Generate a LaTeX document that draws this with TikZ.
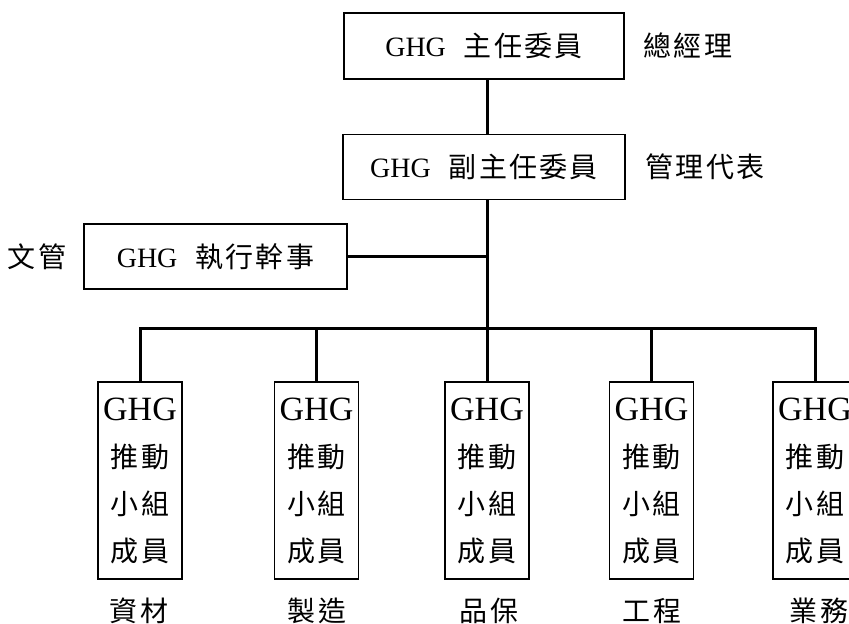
\documentclass[tikz,border=0pt]{standalone}
\usepackage{fontspec}
\setmainfont{Liberation Serif}
\newfontfamily\cjk[LetterSpace=8]{Noto Sans CJK TC}
\newcommand\bigghg{{\fontsize{17}{23.5}\selectfont GHG}}
\begin{document}
\begin{tikzpicture}[x=0.5pt,y=-0.5pt]
\tikzstyle{box} = [draw, line width=0.6pt, inner sep=0pt, font=\fontsize{14}{16}\selectfont]
\tikzstyle{member} = [box, minimum width=42pt, minimum height=98.5pt, align=center, font=\fontsize{14}{23.5}\selectfont]
\tikzstyle{note} = [font=\fontsize{14}{16}\selectfont\cjk]
\tikzstyle{link} = [line width=1.5pt]
\useasboundingbox (0,0) rectangle (849,624);
\node[box, minimum width=140pt, minimum height=33pt] (chief) at (484,46) {GHG\hspace{9pt}{\cjk 主任委員}};
\node[note] (gm) at (688,46) {總經理};
\node[box, minimum width=141pt, minimum height=32.5pt] (vice) at (484,167) {GHG\hspace{9pt}{\cjk 副主任委員}};
\node[note] (rep) at (705,167) {管理代表};
\node[box, minimum width=131.5pt, minimum height=32.5pt] (exec) at (215.5,256.5) {GHG\hspace{9pt}{\cjk 執行幹事}};
\node[note] (doc) at (37,256.5) {文管};
\node[member] (m1) at (140,480.5) {\bigghg\\{\cjk 推動}\\{\cjk 小組}\\{\cjk 成員}};
\node[member] (m2) at (316.5,480.5) {\bigghg\\{\cjk 推動}\\{\cjk 小組}\\{\cjk 成員}};
\node[member] (m3) at (487,480.5) {\bigghg\\{\cjk 推動}\\{\cjk 小組}\\{\cjk 成員}};
\node[member] (m4) at (651.5,480.5) {\bigghg\\{\cjk 推動}\\{\cjk 小組}\\{\cjk 成員}};
\node[member] (m5) at (815,480.5) {\bigghg\\{\cjk 推動}\\{\cjk 小組}\\{\cjk 成員}};
\node[note] (d1) at (139,611) {資材};
\node[note] (d2) at (317,611) {製造};
\node[note] (d3) at (489,611) {品保};
\node[note] (d4) at (652,611) {工程};
\node[note] (d5) at (819,611) {業務};
\coordinate (hub) at (487,257);
\coordinate (bus) at (487,329);
\draw[link] (chief.south -| hub) -- (vice.north -| hub);
\draw[link] (vice.south -| hub) -- (bus);
\draw[link] (exec.east) -- (exec.east -| hub);
\draw[link] (m1.north) -- (m1.north |- bus) -- (m5.north |- bus) -- (m5.north);
\draw[link] (m2.north) -- (m2.north |- bus);
\draw[link] (m3.north) -- (m3.north |- bus);
\draw[link] (m4.north) -- (m4.north |- bus);
\end{tikzpicture}
\end{document}
